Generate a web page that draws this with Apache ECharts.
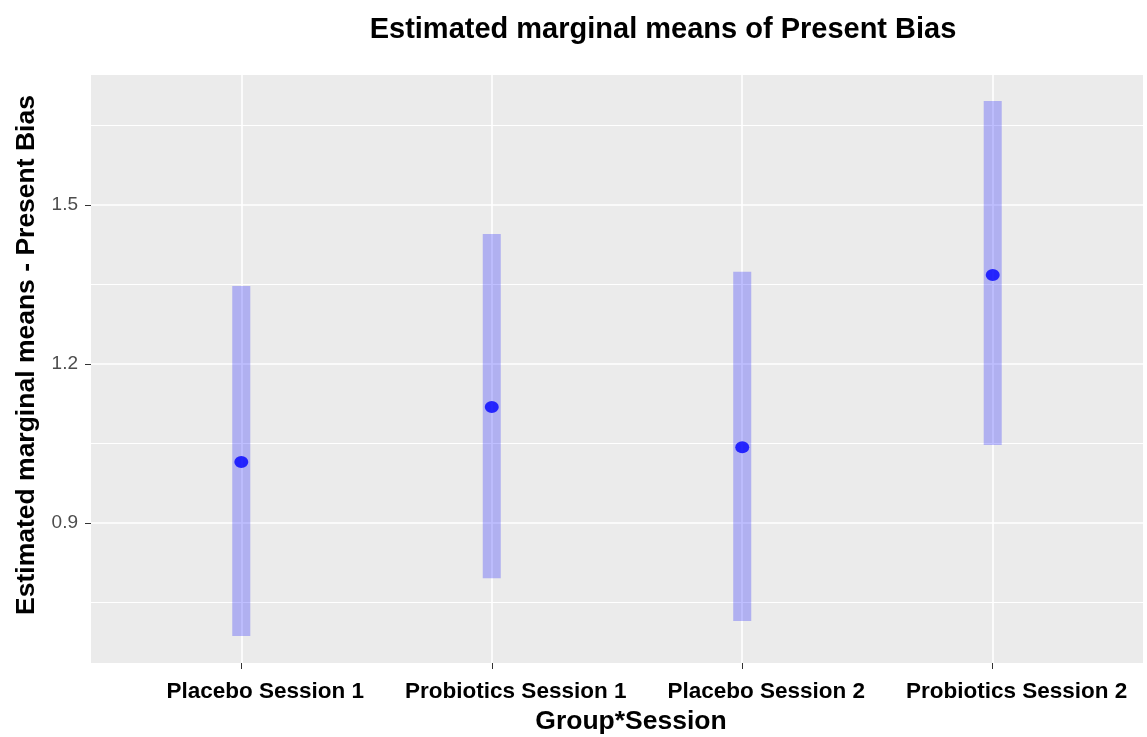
<!DOCTYPE html>
<html>
<head>
<meta charset="utf-8">
<script src="https://cdn.jsdelivr.net/npm/echarts@6/dist/echarts.min.js"></script>
<style>
html,body{margin:0;padding:0;background:#fff;}
#chart{width:1147px;height:737px;}
</style>
</head>
<body>
<div id="chart"></div>
<script>
// ---- data ----
var categories = ['Placebo Session 1', 'Probiotics Session 1', 'Placebo Session 2', 'Probiotics Session 2'];
var means = [1.015, 1.119, 1.043, 1.368];
var lower = [0.687, 0.796, 0.715, 1.047];
var upper = [1.347, 1.445, 1.374, 1.696];
var yTicks = [0.9, 1.2, 1.5];
var yMinorLines = [0.75, 1.05, 1.35, 1.65];
var xPositions = [1, 2, 3, 4];

var FONT = '"Liberation Sans", Arial, sans-serif';
var chart = echarts.init(document.getElementById('chart'), null, {renderer: 'canvas'});

var intervalData = categories.map(function (c, i) { return [xPositions[i], lower[i], upper[i]]; });
var pointData = categories.map(function (c, i) { return [xPositions[i], means[i]]; });

var gridLines = [];
yTicks.forEach(function (v) { gridLines.push({yAxis: v, lineStyle: {width: 1.6}}); });
yMinorLines.forEach(function (v) { gridLines.push({yAxis: v, lineStyle: {width: 1.1}}); });
xPositions.forEach(function (v) { gridLines.push({xAxis: v, lineStyle: {width: 1.6}}); });

chart.setOption({
  animation: false,
  backgroundColor: '#ffffff',
  title: {
    text: 'Estimated marginal means of Present Bias',
    left: 658, top: 10, textAlign: 'center',
    textStyle: {fontFamily: FONT, fontWeight: 'bold', fontSize: 29, color: '#000'}
  },
  grid: {
    left: 91, right: 4, top: 75, bottom: 74,
    outerBoundsMode: 'none', containLabel: false,
    show: true, backgroundColor: '#EBEBEB', borderWidth: 0
  },
  xAxis: {
    type: 'value', min: 0.4, max: 4.6,
    name: 'Group*Session', nameLocation: 'middle', nameGap: 45,
    nameTextStyle: {fontFamily: FONT, fontWeight: 'bold', fontSize: 26.5, color: '#000', padding: [0, 0, 0, 28]},
    axisLine: {show: false},
    axisTick: {show: true, customValues: xPositions, length: 6, lineStyle: {color: '#333', width: 1}},
    axisLabel: {
      customValues: xPositions, margin: 17,
      padding: [0, 0, 0, 48],
      fontFamily: FONT, fontWeight: 'bold', fontSize: 22.5, color: '#000',
      formatter: function (v) { return categories[Math.round(v) - 1] || ''; }
    },
    splitLine: {show: false}
  },
  yAxis: {
    type: 'value', min: 0.636, max: 1.745,
    name: 'Estimated marginal means - Present Bias', nameLocation: 'middle', nameGap: 40,
    nameTextStyle: {fontFamily: FONT, fontWeight: 'bold', fontSize: 26.5, color: '#000', padding: [0, 0, 0, 28]},
    axisLine: {show: false},
    axisTick: {show: true, customValues: yTicks, length: 6, lineStyle: {color: '#333', width: 1}},
    axisLabel: {
      customValues: yTicks, margin: 13,
      fontFamily: FONT, fontSize: 19, color: '#4D4D4D',
      formatter: function (v) { return v.toFixed(1); }
    },
    splitLine: {show: false}
  },
  series: [
    {
      type: 'scatter', data: [], z: 0, silent: true,
      markLine: {
        silent: true, symbol: 'none', animation: false, z: 0,
        label: {show: false},
        lineStyle: {color: '#ffffff', type: 'solid'},
        data: gridLines
      }
    },
    {
      type: 'custom', z: 2, silent: true,
      data: intervalData,
      renderItem: function (params, api) {
        var x = api.value(0);
        var lo = api.coord([x, api.value(1)]);
        var hi = api.coord([x, api.value(2)]);
        var w = api.size([0.072, 0])[0];
        return {
          type: 'rect',
          shape: {x: lo[0] - w / 2, y: hi[1], width: w, height: lo[1] - hi[1]},
          style: {fill: 'rgba(0,0,255,0.25)'}
        };
      }
    },
    {
      type: 'scatter', z: 10, silent: true,
      data: pointData,
      symbol: 'circle', symbolSize: [14, 12],
      itemStyle: {color: '#0000FF'}
    }
  ]
});
</script>
</body>
</html>
